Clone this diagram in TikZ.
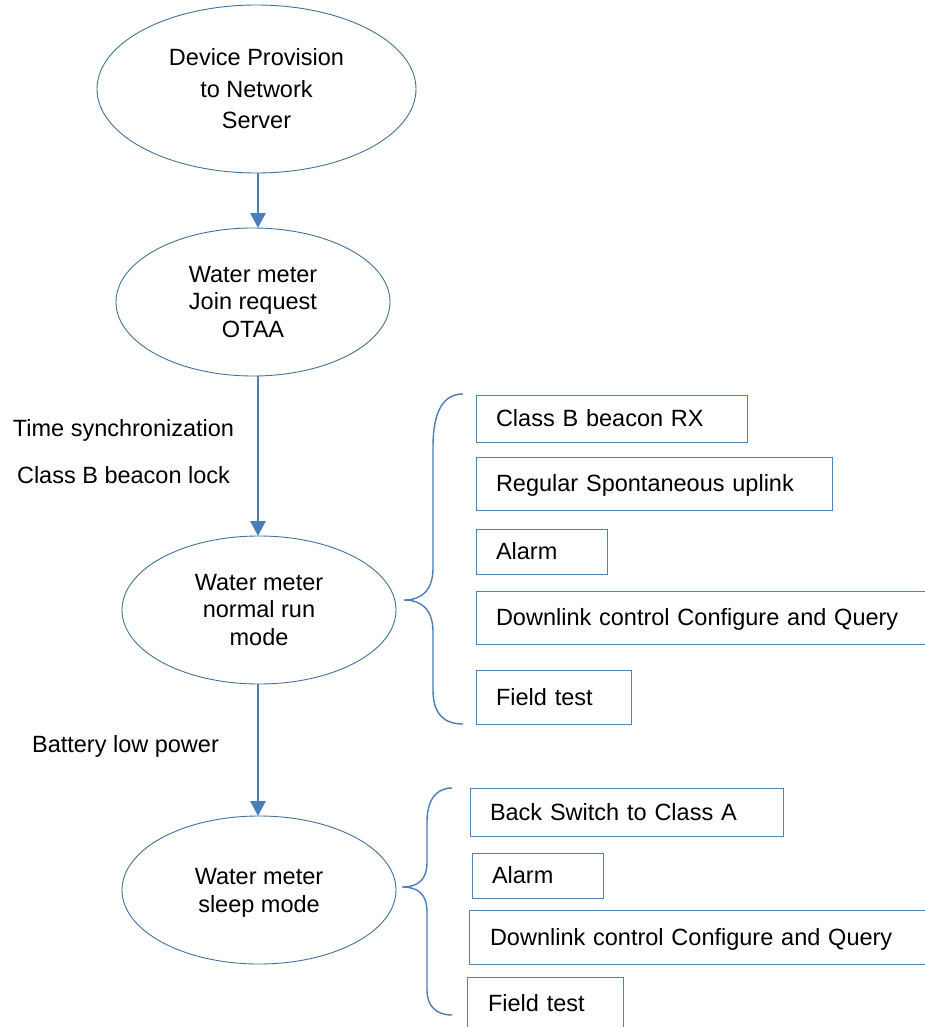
\documentclass[tikz,border=0pt]{standalone}
\usepackage{fontspec}
\setmainfont{Liberation Sans}
\usetikzlibrary{shapes.geometric,arrows.meta}
\definecolor{ellline}{HTML}{41719C}
\definecolor{flow}{HTML}{4A7EBB}
\definecolor{boxline}{HTML}{4F81BD}
\tikzset{
  state/.style={ellipse, draw=ellline, line width=0.9pt, inner sep=0pt, outer sep=0pt,
    align=center, font=\fontsize{23.5}{27.5}\selectfont},
  flowarrow/.style={draw=flow, line width=2.8pt,
    -{Triangle[width=15pt,length=15pt]}},
  itembox/.style={draw=boxline, line width=0.9pt, anchor=north west, outer sep=0pt,
    inner xsep=20pt, inner ysep=0pt, align=left, text height=16.8pt, text depth=0pt,
    font=\fontsize{23.5}{27.5}\selectfont},
  sidelabel/.style={anchor=base, inner sep=0pt, font=\fontsize{23.5}{27.5}\selectfont},
  bracket/.style={draw=flow, line width=1.4pt}
}
\begin{document}
\begin{tikzpicture}[x=1pt,y=-1pt]
\clip (0,0) rectangle (925,1027);

% process states
\node[state, minimum width=319pt, minimum height=168pt,
      font=\fontsize{23.5}{31.5}\selectfont] (prov) at (256.5,89)
  {Device Provision\\to Network\\Server};
\node[state, minimum width=274pt, minimum height=148pt] (join) at (253,302)
  {Water meter\\Join request\\OTAA};
\node[state, minimum width=274pt, minimum height=148pt] (run) at (259,610)
  {Water meter\\normal run\\mode};
\node[state, minimum width=274pt, minimum height=148pt] (sleep) at (259,890)
  {};
% caption of the sleep state, set on its last baseline
\node[align=center, inner sep=0pt, font=\fontsize{23.5}{27.5}\selectfont,
      anchor=base] (sleeptxt) at (259,912) {Water meter\\sleep mode};

% transitions
\coordinate (c1) at (258,173);
\coordinate (c2) at (258,228);
\coordinate (c3) at (258,376);
\coordinate (c4) at (258,536);
\coordinate (c5) at (258,684);
\coordinate (c6) at (258,816);
\draw[flowarrow] (c1) -- (c2);
\draw[flowarrow] (c3) -- (c4);
\draw[flowarrow] (c5) -- (c6);

% transition conditions
\node[sidelabel] (ts) at (123.5,436) {Time synchronization};
\node[sidelabel] (bl) at (123.5,483) {Class B beacon lock};
\node[sidelabel] (bp) at (125.5,752) {Battery low power};

% normal run mode activities
\node[itembox, minimum width=271pt, minimum height=47pt, text width=231pt] (a1) at (476,395) {Class B beacon RX};
\node[itembox, minimum width=356pt, minimum height=53pt, text width=316pt] (a2) at (476,457) {Regular Spontaneous uplink};
\node[itembox, minimum width=131pt, minimum height=45pt, text width=91pt] (a3) at (476,529) {Alarm};
\node[itembox, minimum width=480pt, minimum height=53pt, text width=440pt] (a4) at (476,591) {Downlink control Configure and Query};
\node[itembox, minimum width=155pt, minimum height=54pt, text width=115pt] (a5) at (476,670) {Field test};

% sleep mode activities
\node[itembox, minimum width=313pt, minimum height=48pt, text width=273pt] (s1) at (470,788) {Back Switch to Class A};
\node[itembox, minimum width=131pt, minimum height=45pt, text width=91pt] (s2) at (472,853) {Alarm};
\node[itembox, minimum width=480pt, minimum height=54pt, text width=439pt, inner xsep=21pt] (s3) at (469,910) {Downlink control Configure and Query};
\node[itembox, minimum width=156pt, minimum height=53pt, text width=114pt, inner xsep=21pt] (s4) at (467,977) {Field test};

% curly brackets grouping the activities
\draw[bracket] (463,394) .. controls (444,394) and (433,410) .. (433,447)
  -- (433,568) .. controls (433,590) and (422,600) .. (404,600)
  .. controls (422,600) and (433,610) .. (433,632)
  -- (433,690) .. controls (433,714) and (444,724) .. (463,724);
\draw[bracket] (452,788) .. controls (436,788) and (427,800) .. (427,822)
  -- (427,862) .. controls (427,880) and (418,887) .. (402,887)
  .. controls (418,887) and (427,894) .. (427,912)
  -- (427,990) .. controls (427,1006) and (436,1015) .. (452,1015);
\end{tikzpicture}
\end{document}
